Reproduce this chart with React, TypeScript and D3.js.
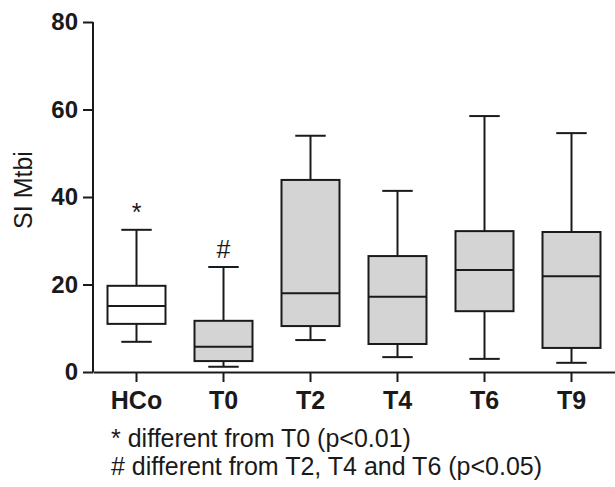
import React, { useEffect, useRef } from 'react'
import * as d3 from 'd3'

// box plot values
const categories = ['HCo', 'T0', 'T2', 'T4', 'T6', 'T9']
const whiskerLow = [6.9, 1.2, 7.3, 3.4, 3.0, 2.1]
const q1 = [11.0, 2.5, 10.5, 6.4, 13.9, 5.5]
const median = [15.1, 5.8, 18.0, 17.2, 23.3, 21.9]
const q3 = [19.7, 11.7, 43.9, 26.5, 32.2, 32.0]
const whiskerHigh = [32.5, 24.0, 54.0, 41.4, 58.5, 54.6]
const fills = ['#ffffff', '#d4d4d4', '#d4d4d4', '#d4d4d4', '#d4d4d4', '#d4d4d4']
const yTicks = [0, 20, 40, 60, 80]
const marks = [{ cat: 'HCo', sym: '*' }, { cat: 'T0', sym: '#' }]
const notes = ['* different from T0 (p<0.01)', '# different from T2, T4 and T6 (p<0.05)']

function drawChart(node: SVGSVGElement) {
    const svg = d3.select(node)
    svg.selectAll('*').remove()

    const font = 'Liberation Sans, Arial, sans-serif'
    const ink = '#1a1a1a'

    const x = d3.scaleBand().domain(categories).range([93, 615]).padding(0)
    const y = d3.scaleLinear().domain([0, 80]).range([372, 22])

    const boxW = x.bandwidth() * 2 / 3
    const capW = x.bandwidth() * 0.35

    const data = categories.map((c, i) => ({
        cat: c, lo: whiskerLow[i], q1: q1[i], med: median[i], q3: q3[i], hi: whiskerHigh[i], fill: fills[i]
    }))

    const g = svg.append('g')
    const box = g.selectAll('g.box').data(data).enter().append('g')
        .attr('class', 'box')
        .attr('transform', d => `translate(${x(d.cat)! + x.bandwidth() / 2},0)`)

    box.append('line').attr('x1', 0).attr('x2', 0)
        .attr('y1', d => y(d.lo)).attr('y2', d => y(d.hi))
        .attr('stroke', ink).attr('stroke-width', 2)
    box.append('line').attr('x1', -capW / 2).attr('x2', capW / 2)
        .attr('y1', d => y(d.hi)).attr('y2', d => y(d.hi))
        .attr('stroke', ink).attr('stroke-width', 2)
    box.append('line').attr('x1', -capW / 2).attr('x2', capW / 2)
        .attr('y1', d => y(d.lo)).attr('y2', d => y(d.lo))
        .attr('stroke', ink).attr('stroke-width', 2)
    box.append('rect')
        .attr('x', -boxW / 2).attr('width', boxW)
        .attr('y', d => y(d.q3)).attr('height', d => y(d.q1) - y(d.q3))
        .attr('fill', d => d.fill).attr('stroke', ink).attr('stroke-width', 2)
    box.append('line').attr('x1', -boxW / 2).attr('x2', boxW / 2)
        .attr('y1', d => y(d.med)).attr('y2', d => y(d.med))
        .attr('stroke', ink).attr('stroke-width', 2)

    // significance marks
    g.selectAll('text.mark').data(marks).enter().append('text')
        .attr('x', d => x(d.cat)! + x.bandwidth() / 2)
        .attr('y', d => y(whiskerHigh[categories.indexOf(d.cat)]) - 9)
        .attr('text-anchor', 'middle')
        .style('font-family', font).style('font-size', '25px')
        .attr('fill', ink)
        .text(d => d.sym)

    // axes
    const yAxis = svg.append('g').attr('transform', 'translate(93,0)')
        .call(d3.axisLeft(y).tickValues(yTicks).tickSize(10).tickPadding(5))
    const xAxis = svg.append('g').attr('transform', 'translate(0,372)')
        .call(d3.axisBottom(x).tickSize(10).tickPadding(6).tickSizeOuter(0))

    for (const ax of [yAxis, xAxis]) {
        ax.select('.domain').attr('stroke', ink).attr('stroke-width', 2)
        ax.selectAll('.tick line').attr('stroke', ink).attr('stroke-width', 2)
        ax.selectAll('.tick text')
            .attr('fill', ink)
            .style('font-family', font).style('font-size', '24px').style('font-weight', 'bold')
    }
    yAxis.select('.domain').attr('d', 'M0,22V372')
    xAxis.selectAll('.tick text').style('font-size', '25px').attr('dy', '0.85em')

    svg.append('text')
        .attr('transform', 'translate(32,190) rotate(-90)')
        .attr('text-anchor', 'middle')
        .style('font-family', font).style('font-size', '25px')
        .attr('fill', ink)
        .text('SI Mtbi')

    svg.selectAll('text.note').data(notes).enter().append('text')
        .attr('x', 111)
        .attr('y', (d, i) => 447 + i * 28)
        .style('font-family', font).style('font-size', '25px')
        .attr('fill', ink)
        .text(d => d)
}

export default function App() {
    const ref = useRef<SVGSVGElement>(null)

    useEffect(() => {
        if (ref.current) drawChart(ref.current)
    }, [])

    return (
        <svg ref={ref} width={615} height={487}
            style={{ position: 'absolute', left: 0, top: 0, background: '#fff' }} />
    )
}
